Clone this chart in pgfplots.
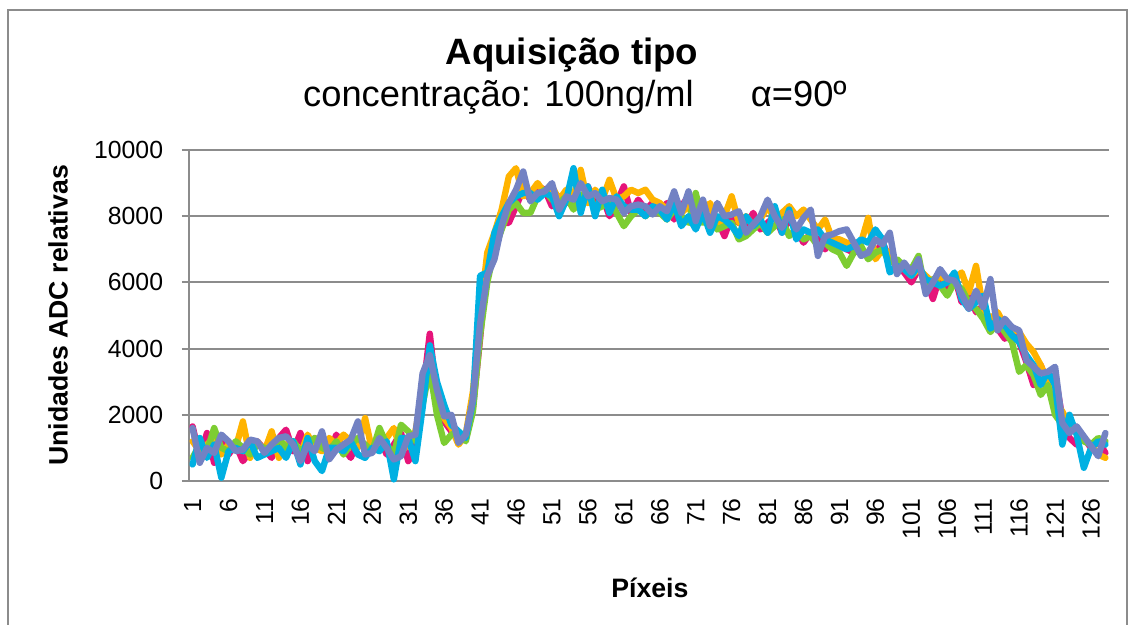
\documentclass[border=0pt]{standalone}
\usepackage{pgfplots}
\pgfplotsset{compat=1.18}
\usepackage{pgfplotstable}
\usepackage{fontspec}
\setmainfont{Liberation Sans}

\definecolor{sMag}{HTML}{E6147A}
\definecolor{sOra}{HTML}{FFB300}
\definecolor{sGre}{HTML}{7DCD32}
\definecolor{sCya}{HTML}{00B0E2}
\definecolor{sPur}{HTML}{7382C3}
\definecolor{gridgray}{HTML}{8C8C8C}

% pixel index, then five acquisitions
\pgfplotstableread{
x m o g c p
1 1650 1200 700 500 1600
2 700 900 1100 1300 550
3 1450 1100 900 700 1000
4 550 1300 1600 1100 850
5 1300 800 1000 100 1400
6 800 1100 900 900 1200
7 1100 1000 1200 1000 900
8 600 1800 1000 900 950
9 900 700 800 1200 1250
10 1200 1200 1100 700 1200
11 950 900 1000 800 850
12 700 1500 900 900 1100
13 1300 700 1300 1000 1300
14 1550 1100 1000 700 1350
15 900 1200 1200 1200 1100
16 1450 800 900 500 600
17 600 1400 1100 1300 1100
18 1300 1000 1300 600 900
19 1100 900 1000 300 1500
20 800 1300 900 1000 650
21 1400 1100 1200 1000 950
22 1000 1400 800 900 1100
23 700 1200 1100 1200 1250
24 1200 1000 1300 800 1800
25 1100 1900 1100 700 800
26 900 900 900 1000 850
27 1300 1100 1600 900 1300
28 800 1300 1100 1200 1000
29 1100 1600 800 50 650
30 1450 900 1700 1300 750
31 600 1100 1500 1300 1350
32 1000 1500 1200 600 1400
33 2600 2700 2300 2200 3250
34 4450 3500 3400 4100 3800
35 2500 2400 2000 3000 2750
36 1800 1900 1150 2300 1950
37 1500 1600 1400 1700 2000
38 1300 1100 1500 1500 1150
39 1250 1400 1200 1300 1400
40 2200 2700 2100 2400 2450
41 4300 5000 4400 6200 4750
42 6700 6900 6000 6300 6200
43 7200 7500 7000 7500 6700
44 7800 8200 7600 8000 7700
45 7800 9200 8200 8400 8400
46 8300 9450 8400 8600 8800
47 8800 8600 8100 8700 9350
48 8500 8700 8100 8700 8450
49 8900 9000 8600 8500 8700
50 8800 8700 8800 8700 8750
51 8300 8900 8500 8600 9000
52 8600 8500 8400 8000 8200
53 8400 8800 8600 8500 8600
54 8700 8600 8200 9450 8500
55 8200 9400 8600 8100 9000
56 8900 8400 8800 8900 8600
57 8300 8800 8200 8000 8700
58 8600 8500 8300 8800 8450
59 8000 9100 8500 8100 8550
60 8400 8500 8100 8600 8500
61 8900 8600 7700 8300 8100
62 8100 8800 8000 8200 8300
63 8500 8700 8200 8200 8350
64 8200 8800 8000 8000 8300
65 8400 8500 8200 8300 8050
66 8100 8400 8100 8200 8300
67 8400 8200 7900 7900 8150
68 7900 8600 8200 8400 8750
69 8300 8100 8000 7700 8100
70 8600 8300 7800 8000 8750
71 7900 7900 8700 7600 7850
72 8100 8000 7800 8100 8500
73 7700 8400 7900 7500 7700
74 7900 7700 7600 8000 8400
75 7400 8000 7700 7900 8000
76 8000 8600 7800 7700 8050
77 7800 7800 7300 7400 8150
78 7700 8000 7400 8000 7500
79 8100 7700 7600 7700 7750
80 7600 7900 7800 7900 8000
81 7800 8300 7500 7500 8500
82 8000 7900 7700 8300 8000
83 7500 8100 7900 7500 7650
84 7900 8300 7400 8200 8100
85 7600 8000 7600 7300 7600
86 7200 8200 7300 7600 7950
87 7500 7900 7400 7500 8200
88 7300 7600 7100 7600 6800
89 7000 7900 7200 7300 7400
90 7300 7300 7000 7200 7450
91 7100 7300 6900 7100 7550
92 7000 7200 6500 7000 7600
93 6900 7100 6900 7100 7200
94 7000 7200 7100 7300 6800
95 6800 7950 6700 7200 6900
96 6900 6700 6900 7600 7300
97 7200 7000 7000 7300 7150
98 6700 6900 6600 6300 7500
99 6500 6600 6700 6500 6250
100 6300 6400 6500 6400 6600
101 6000 6200 6400 6200 6300
102 6400 6400 6800 6500 6700
103 6100 6200 5700 6100 5650
104 5500 6000 6100 6000 6000
105 6200 6200 5900 5900 6400
106 5800 6000 5600 6000 6100
107 6200 6100 6000 6300 6050
108 5400 6300 5800 5500 5650
109 5700 5700 5400 5200 5200
110 5100 6500 5200 5400 5750
111 5300 5200 4900 5600 5250
112 4800 4900 4500 4600 6100
113 4600 5100 4800 4900 4550
114 4300 4700 4500 4700 4900
115 4500 4600 4200 4400 4650
116 4200 4500 3300 4200 4550
117 3600 4150 3500 3800 3650
118 2900 3900 3200 3500 3450
119 3500 3500 2600 2900 3250
120 2900 3000 2900 3300 3300
121 3200 2400 2000 2900 3450
122 1900 2100 1700 1100 1750
123 1300 1700 1700 2000 1450
124 1100 1500 1500 1400 1650
125 1300 1300 1200 400 1350
126 1000 1100 1100 1000 1050
127 1200 800 1300 1200 750
128 850 700 1200 1100 1450
}\adcdata

\begin{document}
\begin{tikzpicture}[x=0.75pt,y=0.75pt]
\useasboundingbox (0,0) rectangle (1129,625);
% chart area frame
\begin{scope}
  \clip (0,0) rectangle (1129,625);
  \draw[gridgray, line width=1.5pt] (8,615) rectangle (1127,-40);
\end{scope}
\node[anchor=base, font=\bfseries\fontsize{27.5}{33}\selectfont] at (572,560) {Aquisição tipo};
\node[anchor=base, font=\fontsize{27.2}{33}\selectfont] at (575,518) {concentração: 100ng/ml\hspace{43pt}α=90º};
\begin{axis}[
  at={(141.75pt,108pt)}, anchor=south west,
  scale only axis, width=690pt, height=248.25pt,
  xmin=0.5, xmax=128.5, ymin=0, ymax=10000,
  axis x line=bottom, axis y line=left,
  axis line style={draw=gridgray, line width=1.5pt, -},
  xtick={1,6,...,126}, ytick={0,2000,...,10000},
  scaled y ticks=false,
  ymajorgrids, grid style={draw=gridgray, line width=1.5pt},
  tick align=outside, major tick length=5.25pt,
  y tick style={draw=gridgray, line width=1.5pt},
  x tick style={draw=none},
  tick label style={font=\fontsize{18.6}{20}\selectfont},
  /pgf/number format/assume math mode=true,
  /pgf/number format/1000 sep={},
  yticklabel style={anchor=east, inner sep=0pt, xshift=-14pt},
  xticklabel style={rotate=90, anchor=east, inner sep=0pt},
  xticklabel shift=7.5pt,
  xlabel={Píxeis}, ylabel={Unidades ADC relativas},
  every axis x label/.style={at={(axis description cs:0.501,-0.3233)}, anchor=center,
    font=\bfseries\fontsize{20}{24}\selectfont},
  every axis y label/.style={at={(axis description cs:-0.1424,0.5)}, rotate=90, anchor=center,
    font=\bfseries\fontsize{20}{24}\selectfont},
  every axis plot/.append style={line width=4.8pt, line join=round, line cap=round, no marks},
  clip=false,
]
\addplot[sMag] table[x=x, y=m] {\adcdata};
\addplot[sOra] table[x=x, y=o] {\adcdata};
\addplot[sGre] table[x=x, y=g] {\adcdata};
\addplot[sCya] table[x=x, y=c] {\adcdata};
\addplot[sPur] table[x=x, y=p] {\adcdata};
\end{axis}
\end{tikzpicture}
\end{document}
